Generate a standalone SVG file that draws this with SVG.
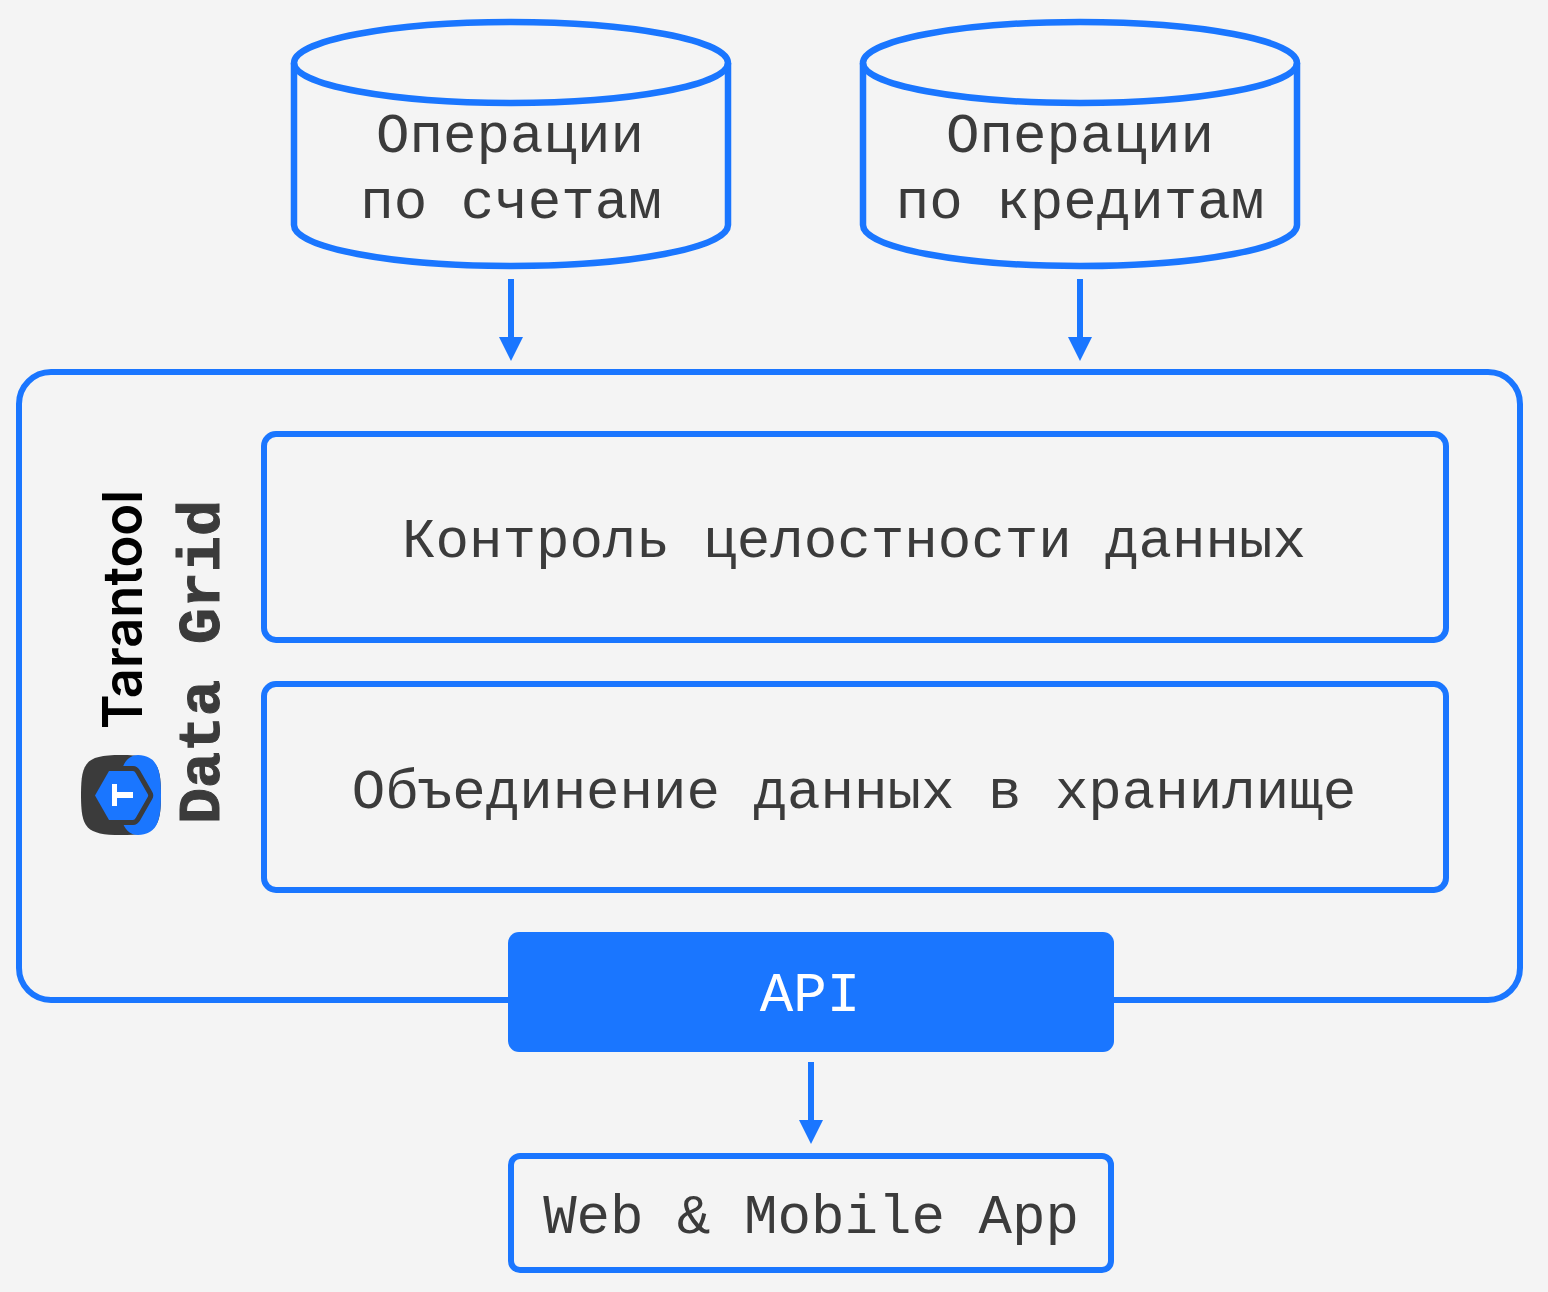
<svg xmlns="http://www.w3.org/2000/svg" width="1548" height="1292" viewBox="0 0 1548 1292">
<style>
.s{fill:none;stroke:#1a76ff;stroke-width:6}
.t{font-family:"Liberation Mono",monospace;font-size:55.8px;fill:#3b3b3b;text-anchor:middle}
.c{stroke:#1a76ff;stroke-width:6;fill:none;marker-end:url(#a)}
</style>
<defs>
<marker id="a" markerUnits="userSpaceOnUse" markerWidth="26" markerHeight="26" refX="12" refY="12" viewBox="0 0 26 26" orient="auto"><path d="M0 0L24 12L0 24Z" fill="#1a76ff"/></marker>
</defs>
<rect width="1548" height="1292" fill="#f4f4f4"/>
<g id="db1">
<path class="s" d="M294 63A217 41 0 0 1 728 63V225A217 41 0 0 1 294 225Z" style="stroke-width:6.500"/>
<path class="s" d="M294 63A217 40 0 0 0 728 63" style="stroke-width:6.500"/>
<text class="t" x="510" y="152">Операции</text>
<text class="t" x="511" y="218">по счетам</text>
</g>
<g id="db2">
<path class="s" d="M863 63A217 41 0 0 1 1297 63V225A217 41 0 0 1 863 225Z" style="stroke-width:6.500"/>
<path class="s" d="M863 63A217 40 0 0 0 1297 63" style="stroke-width:6.500"/>
<text class="t" x="1080" y="152">Операции</text>
<text class="t" x="1080" y="218">по кредитам</text>
</g>
<g id="container">
<rect class="s" x="19" y="372" width="1501" height="628" rx="32"/>
</g>
<g id="box1">
<rect class="s" x="264" y="434" width="1182" height="206" rx="12"/>
<text class="t" x="854" y="557">Контроль целостности данных</text>
</g>
<g id="box2">
<rect class="s" x="264" y="684" width="1182" height="206" rx="12"/>
<text class="t" x="854" y="808">Объединение данных в хранилище</text>
</g>
<g id="api">
<rect x="508" y="932" width="606" height="120" rx="11" fill="#1a76ff"/>
<text class="t" x="810" y="1011" style="fill:#fff">API</text>
</g>
<g id="app">
<rect class="s" x="511" y="1156" width="600" height="114" rx="9"/>
<text class="t" x="811" y="1233">Web &amp; Mobile App</text>
</g>
<g id="brand">
<path d="M81 795C81 762 86 755 121 755S161 762 161 795S156 835 121 835S81 828 81 795Z" fill="#3b3b3b"/>
<path d="M122 770C124 761 130 755 138 755C155 756 161 765 161 795C161 825 155 834 138 835C130 835 124 829 122 820Z" fill="#1a76ff"/>
<path d="M109 771H133L147 795.500L133 820H109L95 795.500Z" fill="#1a76ff"/>
<path d="M122 768.500H133Q136 768.500 138 772L150 793Q151.500 795.500 150 798L138 819Q136 822.500 133 822.500H122" fill="none" stroke="#3b3b3b" stroke-width="5"/>
<path d="M112 784H117V792H133V798H117V806H112Z" fill="#fff"/>
<text transform="translate(142 729) rotate(-90)" font-family="Inter,sans-serif" font-size="55" font-weight="600" fill="#000" textLength="239" lengthAdjust="spacingAndGlyphs">Tarantool</text>
<text transform="translate(219 824) rotate(-90)" font-family="'Liberation Mono',monospace" font-size="60" font-weight="700" fill="#3b3b3b" stroke="#3b3b3b" stroke-width="1">Data Grid</text>
</g>
<g id="connectors">
<path class="c" d="M511 279V349"/>
<path class="c" d="M1080 279V349"/>
<path class="c" d="M811 1062V1132"/>
</g>
</svg>
